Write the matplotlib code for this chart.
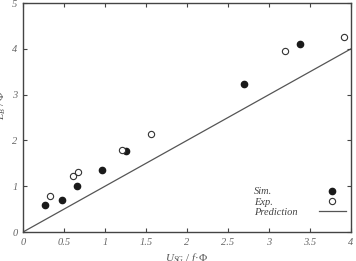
import matplotlib
matplotlib.use("Agg")
import matplotlib.pyplot as plt
from matplotlib.lines import Line2D

plt.rcParams['font.family'] = ['Liberation Serif', 'DejaVu Serif']
plt.rcParams['mathtext.fontset'] = 'custom'
plt.rcParams['mathtext.rm'] = 'Liberation Serif'
plt.rcParams['mathtext.it'] = 'Liberation Serif:italic'

sim_x = [0.27, 0.47, 0.655, 0.96, 1.256, 2.69, 3.38]
sim_y = [0.59, 0.71, 1.01, 1.35, 1.76, 3.23, 4.10]
exp_x = [0.33, 0.61, 0.675, 1.21, 1.56, 3.19, 3.91]
exp_y = [0.79, 1.22, 1.31, 1.79, 2.14, 3.96, 4.26]
pred_x = [0, 4]
pred_y = [0, 4]
xticks = [0, 0.5, 1, 1.5, 2, 2.5, 3, 3.5, 4]
xticklabels = ['0', '0.5', '1', '1.5', '2', '2.5', '3', '3.5', '4']
yticks = [0, 1, 2, 3, 4, 5]
yticklabels = ['0', '1', '2', '3', '4', '5']
legend_labels = ['Sim.', 'Exp.', 'Prediction']

spine_c = '#444444'
label_c = '#666666'

fig = plt.figure(figsize=(3.56, 2.61), dpi=100)
ax = fig.add_axes([0.0646, 0.111, 0.9214, 0.8775])

ax.plot(pred_x, pred_y, color='#555555', lw=0.9, zorder=1)
ax.plot(sim_x, sim_y, 'o', ms=4.5, color='#1a1a1a', mec='#1a1a1a', ls='none', zorder=3)
ax.plot(exp_x, exp_y, 'o', ms=4.5, mfc='white', mec='#333333', mew=0.8, ls='none', zorder=3)

ax.set_xlim(0, 4)
ax.set_ylim(0, 5)
ax.set_xticks(xticks)
ax.set_xticklabels(xticklabels)
ax.set_yticks(yticks)
ax.set_yticklabels(yticklabels)
ax.tick_params(direction='in', length=3, width=0.8, colors=spine_c, labelcolor=label_c,
               labelsize=7.5, top=True, right=True, labeltop=False, labelright=False, pad=4)
for lab in ax.get_xticklabels() + ax.get_yticklabels():
    lab.set_fontstyle('italic')
for s in ax.spines.values():
    s.set_color(spine_c)
    s.set_linewidth(1.0)

ax.set_xlabel(r'$U_{SG}$ / $f$·Φ', fontsize=8, color='#555555', labelpad=3)
ax.set_ylabel(r'$L_B$ / Φ', fontsize=8, color='#555555')
ax.yaxis.set_label_coords(-0.045, 0.555)

handles = [
    Line2D([], [], marker='o', ls='none', ms=4.5, color='#1a1a1a'),
    Line2D([], [], marker='o', ls='none', ms=4.5, mfc='white', mec='#333333', mew=0.8),
    Line2D([], [], color='#555555', lw=0.9),
]
leg = ax.legend(handles, ['', '', ''], loc='lower right', frameon=False,
                fontsize=7.5, handlelength=2.6, handletextpad=0.0,
                labelspacing=0.07, borderaxespad=0.0, borderpad=0.0,
                bbox_to_anchor=(0.9845, 0.066))
ty = [0.175, 0.128, 0.087]
for lbl, yy in zip(legend_labels, ty):
    ax.text(0.704, yy, lbl, transform=ax.transAxes, fontsize=7.5, fontstyle='italic',
            color='#444444', ha='left', va='center')

fig.savefig('out.png', dpi=100)
